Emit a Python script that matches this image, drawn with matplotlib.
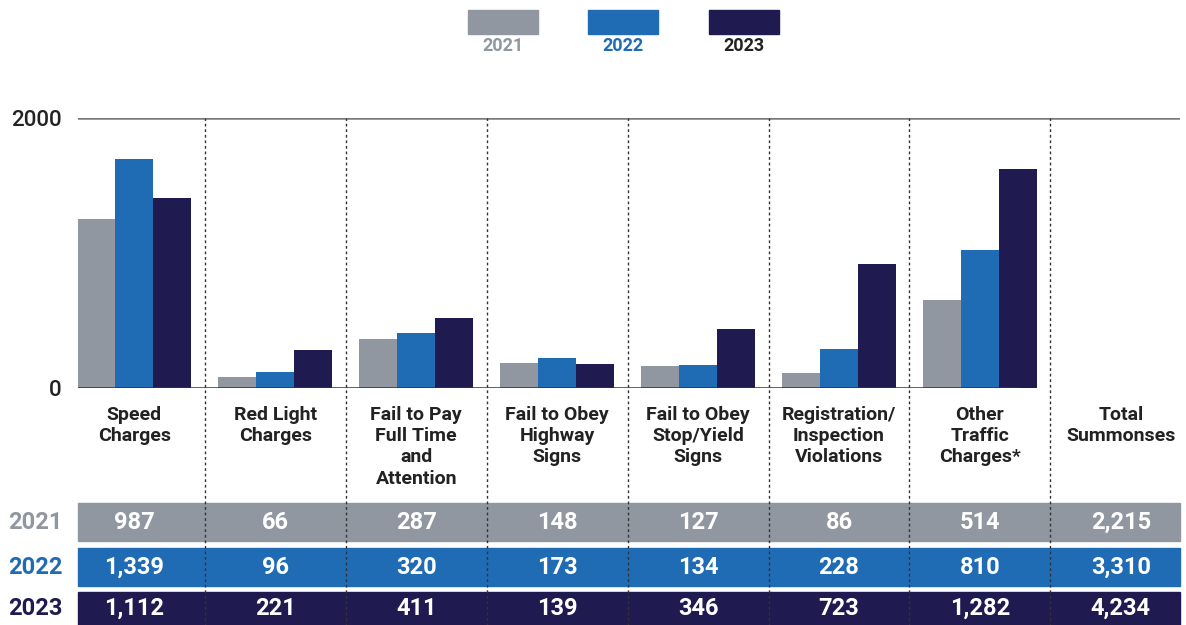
import matplotlib.pyplot as plt
import matplotlib.patches as mpatches
import numpy as np

# Summons counts by category and year
categories = ["Speed\nCharges", "Red Light\nCharges", "Fail to Pay\nFull Time\nand\nAttention",
              "Fail to Obey\nHighway\nSigns", "Fail to Obey\nStop/Yield\nSigns",
              "Registration/\nInspection\nViolations", "Other\nTraffic\nCharges*", "Total\nSummonses"]
years = ["2021", "2022", "2023"]
v2021 = [987, 66, 287, 148, 127, 86, 514, 2215]
v2022 = [1339, 96, 320, 173, 134, 228, 810, 3310]
v2023 = [1112, 221, 411, 139, 346, 723, 1282, 4234]
y_tick_labels = ["0", "2000"]

colors = ["#9197a0", "#1f6bb4", "#1f1a4f"]
year_text_colors = ["#9197a0", "#1f6bb4", "#1f1a4f"]
legend_text_colors = ["#9197a0", "#1f6bb4", "#222222"]

plt.rcParams['font.family'] = ['Roboto', 'DejaVu Sans']

fig = plt.figure(figsize=(11.86, 6.25), dpi=100)
ax = fig.add_axes([78 / 1186, 1 - 388 / 625, (1180 - 78) / 1186, 270 / 625])

YMAX = 1580
n_bar = 7  # total column has no bars
x = np.arange(n_bar)
w = 0.27
series = [v2021, v2022, v2023]
for i, vals in enumerate(series):
    ax.bar(x + (i - 1) * w, vals[:n_bar], width=w, color=colors[i], zorder=2)

ax.set_xlim(-0.4, 7.42)
ax.set_ylim(0, YMAX)
for s in ax.spines.values():
    s.set_visible(False)
ax.set_xticks([])
ax.set_yticks([0, YMAX])
ax.set_yticklabels(y_tick_labels, fontsize=16, fontweight='medium', color='#222222')
ax.tick_params(axis='y', length=0, pad=12)

ax.axhline(YMAX, color='#7a7a7a', lw=1.8, zorder=1)
ax.axhline(0, xmax=(6.27 + 0.4) / 7.82, color='#333333', lw=1.8, zorder=3)

xt = ax.get_xaxis_transform()

# category labels
for i, c in enumerate(categories):
    ax.text(i, -0.065, c, transform=xt, ha='center', va='top', fontsize=14,
            fontweight='bold', color='#222222', linespacing=1.24)

# table bands
bands = [(-0.426, -0.567), (-0.593, -0.733), (-0.756, -0.9)]
for (top, bot), col, vals, yr, ycol in zip(bands, colors, series, years, year_text_colors):
    ax.add_patch(mpatches.Rectangle((0, bot), 1, top - bot, transform=ax.transAxes,
                                    color=col, clip_on=False, zorder=1))
    cy = (top + bot) / 2 if bot > -0.88 else (top - 0.878) / 2
    for i, v in enumerate(vals):
        ax.text(i, cy, f"{v:,}", transform=xt, ha='center', va='center',
                fontsize=17, fontweight='bold', color='white', zorder=4)
    ax.text(-0.039, cy, yr, transform=ax.transAxes, ha='center', va='center',
            fontsize=17, fontweight='bold', color=ycol)

# dotted column separators
ax.vlines(np.arange(n_bar) + 0.5, -0.88, 1, transform=xt, colors='#333333',
          linestyles=(0, (2, 2)), lw=1, clip_on=False, zorder=5)

# legend
leg_x = [503, 623, 744]
for lx, col, yr, tcol in zip(leg_x, colors, years, legend_text_colors):
    fig.patches.append(mpatches.Rectangle(((lx - 35) / 1186, 1 - 34 / 625), 70 / 1186, 24 / 625,
                                          transform=fig.transFigure, color=col))
    fig.text(lx / 1186, 1 - 46 / 625, yr, ha='center', va='center', fontsize=13,
             fontweight='bold', color=tcol)

fig.savefig("out.png", dpi=100)
